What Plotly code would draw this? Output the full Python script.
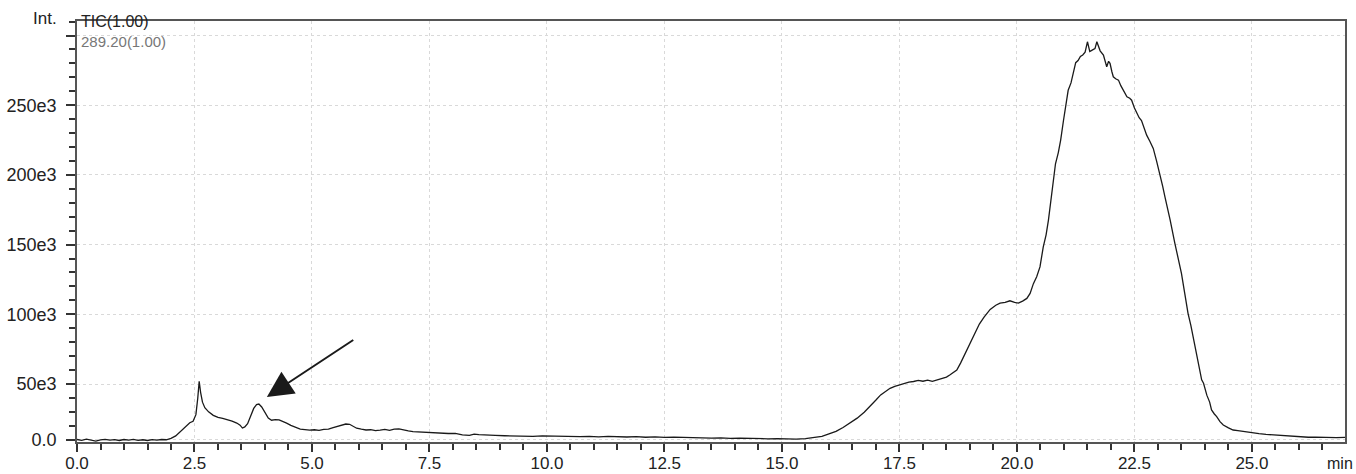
import plotly.graph_objects as go

# Retention time (min)
time_min = [
    0.0, 0.1, 0.2, 0.3, 0.4, 0.5, 0.6, 0.7, 0.8, 0.9, 1.0, 1.1, 1.2, 1.3, 1.4, 1.5, 1.6, 1.7, 1.8, 1.9,
    2.0, 2.1, 2.2, 2.3, 2.4, 2.47, 2.53, 2.57, 2.6, 2.63, 2.67, 2.72, 2.8, 2.9, 3.0, 3.1, 3.2, 3.3, 3.4,
    3.47, 3.52, 3.57, 3.63, 3.7, 3.76, 3.82, 3.87, 3.93, 4.0, 4.07, 4.14, 4.22, 4.3, 4.38, 4.46, 4.55,
    4.65, 4.75, 4.85, 4.95, 5.05, 5.15, 5.25, 5.35, 5.45, 5.55, 5.65, 5.72, 5.8, 5.88, 5.95, 6.05, 6.15,
    6.25, 6.35, 6.45, 6.55, 6.65, 6.75, 6.85, 6.95, 7.05, 7.15, 7.3, 7.45, 7.6, 7.75, 7.9, 8.05, 8.2,
    8.35, 8.45, 8.55, 8.7, 8.9, 9.1, 9.3, 9.5, 9.7, 9.9, 10.1, 10.3, 10.5, 10.7, 10.9, 11.1, 11.3, 11.5,
    11.7, 11.9, 12.1, 12.3, 12.5, 12.7, 12.9, 13.1, 13.3, 13.5, 13.7, 13.9, 14.1, 14.3, 14.5, 14.7, 14.9,
    15.1, 15.3, 15.5, 15.7, 15.85, 16.0, 16.15, 16.3, 16.45, 16.6, 16.75, 16.87, 17.0, 17.1, 17.2, 17.3,
    17.4, 17.5, 17.6, 17.7, 17.8, 17.9, 18.0, 18.1, 18.2, 18.3, 18.4, 18.5, 18.57, 18.65, 18.72, 18.8,
    18.9, 19.0, 19.1, 19.2, 19.3, 19.43, 19.55, 19.64, 19.75, 19.85, 19.95, 20.03, 20.12, 20.21, 20.28,
    20.35, 20.42, 20.49, 20.56, 20.62, 20.67, 20.72, 20.77, 20.82, 20.88, 20.93, 20.99, 21.04, 21.09,
    21.15, 21.2, 21.25, 21.3, 21.35, 21.4, 21.45, 21.5, 21.55, 21.6, 21.66, 21.7, 21.74, 21.77, 21.84,
    21.88, 21.91, 21.95, 21.98, 22.02, 22.05, 22.1, 22.16, 22.21, 22.26, 22.34, 22.4, 22.44, 22.5, 22.55,
    22.6, 22.65, 22.7, 22.76, 22.83, 22.9, 22.97, 23.04, 23.1, 23.15, 23.2, 23.26, 23.36, 23.43, 23.5,
    23.57, 23.64, 23.7, 23.75, 23.8, 23.86, 23.93, 23.97, 24.04, 24.1, 24.14, 24.2, 24.25, 24.32, 24.39,
    24.5, 24.6, 24.7, 24.82, 24.92, 25.03, 25.15, 25.3, 25.45, 25.6, 25.75, 25.9, 26.05, 26.2, 26.35,
    26.5, 26.65, 26.8, 26.98,
]

# Intensity in thousands, on the scale of the 50e3..300e3 grid lines
intensity_k = [
    10.2, 9.6, 10.4, 9.8, 9.0, 9.9, 10.3, 9.7, 10.1, 9.5, 10.2, 9.8, 10.3, 9.6, 10.0, 9.5, 10.1, 9.7, 10.2, 10.0,
    11.0, 12.8, 15.8, 19.5, 22.2, 23.3, 28.0, 40.0, 52.0, 44.0, 37.0, 33.0, 30.0, 27.5, 26.0, 25.3, 24.6, 23.4, 22.0,
    20.5, 18.4, 19.2, 21.5, 27.0, 32.5, 35.2, 35.6, 33.5, 29.5, 25.6, 24.0, 24.5, 24.2, 23.2, 21.9, 20.3,
    18.9, 17.6, 17.3, 16.9, 17.2, 16.8, 17.4, 17.6, 18.7, 19.6, 20.4, 21.3, 21.1, 19.6, 18.3, 17.6, 17.0,
    17.2, 16.6, 16.9, 17.5, 16.8, 17.6, 17.8, 16.9, 16.4, 15.9, 15.6, 15.2, 15.0, 14.7, 14.5, 14.6, 13.5,
    13.2, 14.0, 13.7, 13.3, 13.1, 12.9, 12.7, 12.8, 12.5, 12.8, 12.6, 12.3, 12.5, 12.3, 12.4, 12.1, 12.5, 12.2,
    12.0, 12.2, 11.8, 12.1, 11.7, 11.9, 11.6, 11.8, 11.3, 11.2, 11.4, 11.0, 11.2, 10.9, 11.1, 10.7, 10.8,
    10.6, 10.5, 10.8, 11.5, 12.4, 14.2, 16.0, 18.8, 22.3, 25.5, 29.8, 33.7, 38.5, 42.2, 44.8, 46.9,
    48.3, 49.3, 50.4, 51.4, 51.8, 52.6, 52.0, 52.8, 51.9, 53.0, 53.6, 55.0, 56.5, 58.2, 60.0, 65.0,
    72.0, 79.2, 85.0, 93.0, 98.0, 103.5, 106.5, 108.0, 108.5, 109.7, 108.6, 108.0, 109.5, 111.4, 115.0,
    122.0, 127.0, 134.0, 148.4, 157.0, 167.6, 180.0, 196.0, 208.0, 216.0, 225.0, 239.0, 249.0, 260.7,
    266.0, 274.0, 280.5, 282.0, 285.0, 286.0, 288.0, 295.5, 288.5, 289.5, 290.6, 295.5, 291.0, 289.0, 286.0,
    281.0, 277.6, 281.5, 280.0, 274.0, 270.4, 269.0, 268.0, 264.0, 260.8, 256.0, 255.0, 253.6, 248.0, 244.0,
    241.0, 239.0, 234.0, 228.5, 224.0, 219.0, 210.0, 201.0, 192.0, 184.0, 177.0, 167.6, 150.9, 140.0, 129.4,
    115.0, 100.7, 92.0, 84.0, 75.0, 64.8, 53.0, 50.5, 42.0, 37.0, 31.4, 28.5, 26.6, 23.0, 20.6,
    18.5, 17.0, 16.5, 15.8, 15.4, 14.6, 14.4, 13.9, 13.5, 13.0, 12.9, 12.4, 12.0, 11.8, 11.9,
    11.6, 11.8, 11.5, 11.7,
]

x_tick_vals = [0.0, 2.5, 5.0, 7.5, 10.0, 12.5, 15.0, 17.5, 20.0, 22.5, 25.0]
x_tick_text = ["0.0", "2.5", "5.0", "7.5", "10.0", "12.5", "15.0", "17.5", "20.0", "22.5", "25.0"]
y_tick_vals = [10, 50, 100, 150, 200, 250, 300]
y_tick_text = ["0.0", "50e3", "100e3", "150e3", "200e3", "250e3", ""]

arrow_tip = (4.04, 40.7)
arrow_tail = (5.91, 82.3)

FONT = "Liberation Sans, Arial, Helvetica, sans-serif"

fig = go.Figure()
fig.add_trace(go.Scatter(
    x=time_min, y=intensity_k, mode="lines",
    line=dict(color="#1a1a1a", width=1.3),
    hoverinfo="skip", showlegend=False,
))

grid = dict(showgrid=True, gridcolor="#d9d9d9", gridwidth=1, griddash="dot")

fig.update_xaxes(
    range=[0, 26.98], tickvals=x_tick_vals, ticktext=x_tick_text,
    ticks="outside", ticklen=8, tickwidth=1.5, tickcolor="#333",
    showline=True, linecolor="#555", linewidth=1.6, mirror=True,
    zeroline=False, ticklabelstandoff=-3, automargin=False,
    tickfont=dict(family=FONT, size=17, color="#222"),
    minor=dict(dtick=0.5, tick0=0, ticks="outside", ticklen=6, tickwidth=1.5,
               tickcolor="#333", showgrid=False),
    **grid,
)
fig.update_yaxes(
    range=[8.4, 310.4], tickvals=y_tick_vals, ticktext=y_tick_text,
    ticks="outside", ticklen=9, tickwidth=1.5, tickcolor="#333",
    showline=True, linecolor="#555", linewidth=1.6, mirror=True,
    zeroline=False, ticklabelstandoff=6, automargin=False,
    tickfont=dict(family=FONT, size=18, color="#222"),
    minor=dict(dtick=10, tick0=0, ticks="outside", ticklen=6, tickwidth=1.5,
               tickcolor="#333", showgrid=False),
    **grid,
)

fig.add_annotation(
    x=arrow_tip[0], y=arrow_tip[1], ax=arrow_tail[0], ay=arrow_tail[1],
    xref="x", yref="y", axref="x", ayref="y",
    text="", showarrow=True, arrowhead=2, arrowsize=2.6, arrowwidth=2,
    arrowcolor="#1a1a1a",
)

fig.add_annotation(
    text="Int.", xref="paper", yref="paper", x=-0.014, y=1.0,
    xanchor="right", yanchor="middle", yshift=3, showarrow=False,
    font=dict(family=FONT, size=17, color="#222"),
)
fig.add_annotation(
    text="TIC(1.00)", xref="paper", yref="paper", x=0.0015, y=1.0,
    xanchor="left", yanchor="middle", showarrow=False,
    font=dict(family=FONT, size=16, color="#222"),
)
fig.add_annotation(
    text="289.20(1.00)", xref="paper", yref="paper", x=0.0015, y=1.0,
    xanchor="left", yanchor="middle", yshift=-20, showarrow=False,
    font=dict(family=FONT, size=15, color="#777"),
)
fig.add_annotation(
    text="min", xref="paper", yref="paper", x=1.0, y=0.0,
    xanchor="right", yanchor="middle", xshift=10, yshift=-21, showarrow=False,
    font=dict(family=FONT, size=16, color="#222"),
)

fig.update_layout(
    width=1356, height=474,
    margin=dict(l=77, r=11, t=21, b=32),
    paper_bgcolor="white", plot_bgcolor="white",
    showlegend=False,
)

fig.write_html("out.html")
